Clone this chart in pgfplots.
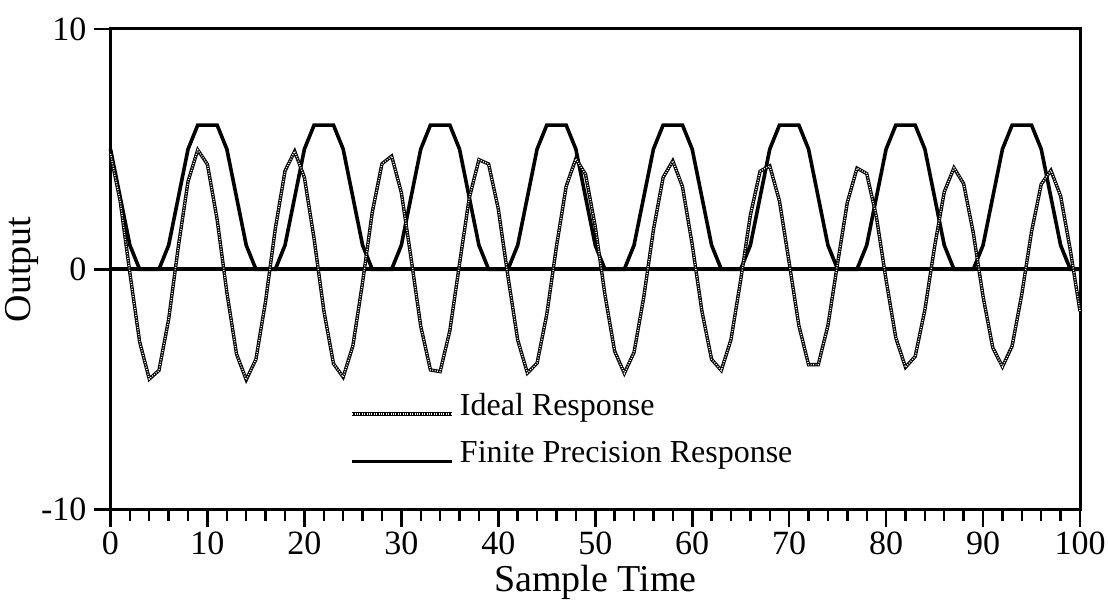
\documentclass[border=0pt]{standalone}
\usepackage{fontspec}
\setmainfont{Liberation Serif}
\usepackage{pgfplots}
\usepackage{pgfplotstable}
\pgfplotsset{compat=1.18}

\pgfplotstableread{
x ideal finite
0 4.80 5
1 2.84 3
2 -0.16 1
3 -3.01 0
4 -4.57 0
5 -4.21 0
6 -2.08 1
7 0.95 3
8 3.66 5
9 4.97 6
10 4.36 6
11 2.07 6
12 -0.96 5
13 -3.53 3
14 -4.60 1
15 -3.75 0
16 -1.32 0
17 1.69 0
18 4.09 1
19 4.91 3
20 3.82 5
21 1.27 6
22 -1.71 6
23 -3.93 6
24 -4.49 5
25 -3.19 3
26 -0.55 1
27 2.37 0
28 4.39 0
29 4.71 0
30 3.19 1
31 0.47 3
32 -2.37 5
33 -4.19 6
34 -4.26 6
35 -2.56 6
36 0.22 5
37 2.96 3
38 4.56 1
39 4.38 0
40 2.51 0
41 -0.31 0
42 -2.94 1
43 -4.32 3
44 -3.91 5
45 -1.88 6
46 0.95 6
47 3.45 6
48 4.60 5
49 3.95 3
50 1.78 1
51 -1.06 0
52 -3.41 0
53 -4.33 0
54 -3.46 1
55 -1.17 3
56 1.64 5
57 3.82 6
58 4.51 6
59 3.43 6
60 1.03 5
61 -1.74 3
62 -3.75 1
63 -4.21 0
64 -2.93 0
65 -0.45 0
66 2.25 1
67 4.08 3
68 4.30 5
69 2.84 6
70 0.28 6
71 -2.34 6
72 -3.97 5
73 -3.97 3
74 -2.34 1
75 0.26 0
76 2.78 0
77 4.21 0
78 3.98 1
79 2.18 3
80 -0.45 5
81 -2.85 6
82 -4.08 6
83 -3.63 6
84 -1.69 5
85 0.94 3
86 3.22 1
87 4.22 0
88 3.56 0
89 1.50 0
90 -1.13 1
91 -3.26 3
92 -4.06 5
93 -3.19 6
94 -1.03 6
95 1.56 6
96 3.54 5
97 4.11 3
98 3.05 1
99 0.80 0
100 -1.75 0
}\datatable

\begin{document}
\begin{tikzpicture}
\useasboundingbox (-55.25pt,-45.25pt) rectangle (498.75pt,254.75pt);
\begin{axis}[
  at={(0,0)}, anchor=south west,
  scale only axis, width=484.75pt, height=240.25pt,
  xmin=0, xmax=100, ymin=-10, ymax=10,
  axis line style={line width=1.5pt},
  xtick={0,10,20,30,40,50,60,70,80,90,100},
  xticklabels={0,10,20,30,40,50,60,70,80,90,100},
  minor xtick={2,4,6,8,12,14,16,18,22,24,26,28,32,34,36,38,42,44,46,48,52,54,56,58,62,64,66,68,72,74,76,78,82,84,86,88,92,94,96,98},
  ytick={-10,0,10}, yticklabels={-10,0,10},
  xtick pos=bottom, ytick pos=left, tick align=outside,
  major tick length=8.5pt, minor tick length=5.5pt,
  every major tick/.style={black, line width=1.3pt},
  every minor tick/.style={black, line width=1.2pt},
  tick label style={font=\fontsize{17}{20}\selectfont},
  xticklabel style={inner sep=1pt, yshift=-1.5pt},
  xlabel={Sample Time}, ylabel={Output},
  every axis x label/.style={at={(axis description cs:0.5,-0.1525)}, anchor=center, inner sep=0.5pt, font=\fontsize{19}{22}\selectfont},
  every axis y label/.style={at={(axis description cs:-0.0913,0.5)}, rotate=90, anchor=center, inner sep=1pt, font=\fontsize{19}{22}\selectfont},
  clip=false,
  reverse legend,
  legend style={at={(axis description cs:0.247,0.247)}, anchor=north west, draw=none, fill=none,
    font=\fontsize{16}{19}\selectfont, row sep=9.5pt, column sep=2pt, inner sep=0pt, nodes={inner sep=1pt}},
  legend cell align=left,
  legend image code/.code={\draw[#1] (0pt,-4pt) -- (50pt,-4pt);},
]
\addplot[black, line width=1.8pt, forget plot] coordinates {(0,0) (100,0)};
\addplot[black, line width=1.8pt, line join=miter] table[x=x, y=finite] {\datatable};
\addlegendentry{Finite Precision Response}
\addplot[black, line width=1.7pt,
  postaction={draw=white, line width=0.7pt, dash pattern=on 0.45pt off 0.75pt}] table[x=x, y=ideal] {\datatable};
\addlegendentry{Ideal Response}
\end{axis}
\end{tikzpicture}
\end{document}
